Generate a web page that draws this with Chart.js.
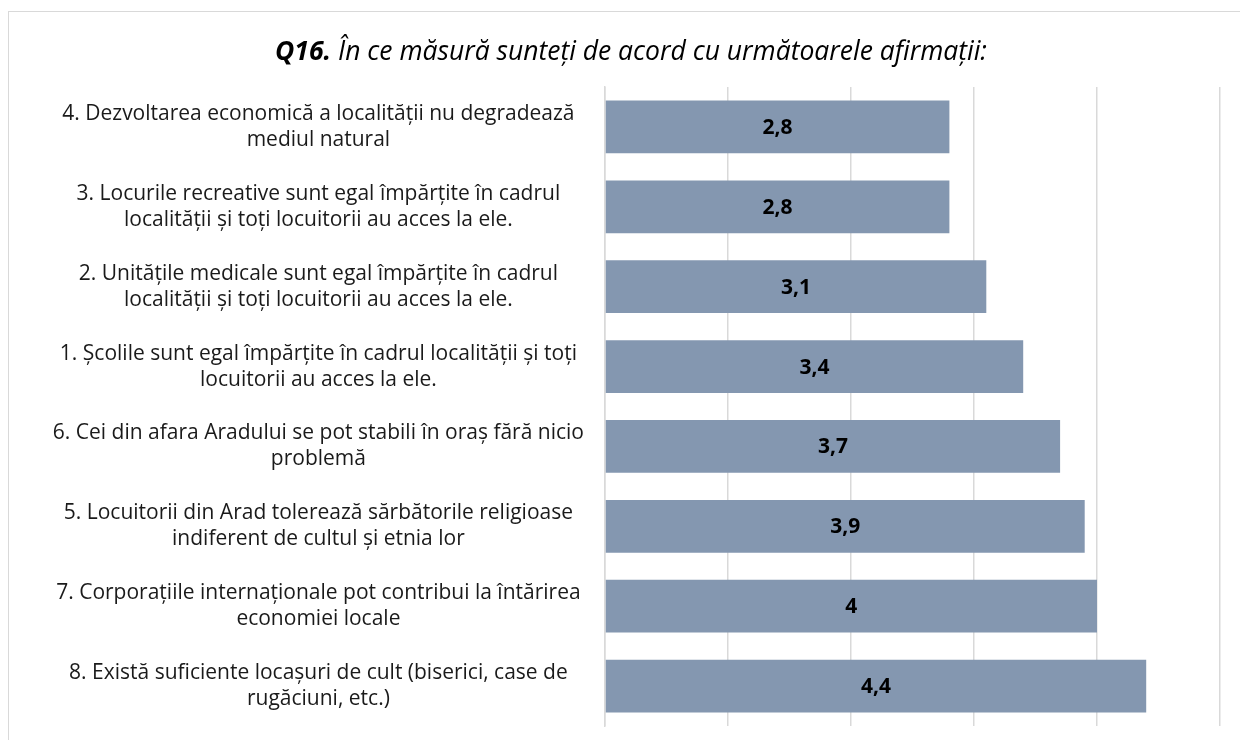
<!DOCTYPE html>
<html>
<head>
<meta charset="utf-8">
<script src="https://cdn.jsdelivr.net/npm/chart.js@4"></script>
<style>
  html, body { margin: 0; padding: 0; background: #fff; overflow: hidden; }
  #wrap { position: relative; width: 1240px; height: 740px; }
  #frame { position: absolute; left: 8px; top: 11px; width: 1300px; height: 800px; border: 1px solid #d9d9d9; pointer-events: none; }
</style>
</head>
<body>
<div id="wrap">
  <div id="frame"></div>
  <canvas id="chart" width="1240" height="740"></canvas>
</div>
<script>
const title_bold = 'Q16.';
const title_rest = 'În ce măsură sunteți de acord cu următoarele afirmații:';

const statements = [
    ['4. Dezvoltarea economică a localității nu degradează', 'mediul natural'],
    ['3. Locurile recreative sunt egal împărțite în cadrul', 'localității și toți locuitorii au acces la ele.'],
    ['2. Unitățile medicale sunt egal împărțite în cadrul', 'localității și toți locuitorii au acces la ele.'],
    ['1. Școlile sunt egal împărțite în cadrul localității și toți', 'locuitorii au acces la ele.'],
    ['6. Cei din afara Aradului se pot stabili în oraș fără nicio', 'problemă'],
    ['5. Locuitorii din Arad tolerează sărbătorile religioase', 'indiferent de cultul și etnia lor'],
    ['7. Corporațiile internaționale pot contribui la întărirea', 'economiei locale'],
    ['8. Există suficiente locașuri de cult (biserici, case de', 'rugăciuni, etc.)']
];
const mean_scores = [2.8, 2.8, 3.1, 3.4, 3.7, 3.9, 4, 4.4];

const font_family = '"Open Sans", Lato, sans-serif';

// two-style title (bold italic "Q16." + italic rest)
var titlePlugin = {
    id: 'mixedTitle',
    afterDraw: function(chart) {
        var ctx = chart.ctx;
        ctx.save();
        ctx.textBaseline = 'middle';
        ctx.fillStyle = '#000';
        var boldFont = 'italic bold 26.5px ' + font_family;
        var italicFont = 'italic 26.5px ' + font_family;
        ctx.font = boldFont;
        var w1 = ctx.measureText(title_bold + ' ').width;
        ctx.font = italicFont;
        var w2 = ctx.measureText(title_rest).width;
        var x = 631 - (w1 + w2) / 2;
        ctx.textAlign = 'left';
        ctx.font = boldFont;
        ctx.fillText(title_bold, x, 52);
        ctx.font = italicFont;
        ctx.fillText(title_rest, x + w1, 52);
        ctx.restore();
    }
};

// value labels in the middle of each bar
var valueLabels = {
    id: 'valueLabels',
    afterDatasetsDraw: function(chart) {
        var ctx = chart.ctx;
        var meta = chart.getDatasetMeta(0);
        ctx.save();
        ctx.font = 'bold 21px ' + font_family;
        ctx.fillStyle = '#000';
        ctx.textAlign = 'center';
        ctx.textBaseline = 'middle';
        meta.data.forEach(function(bar, i) {
            var p = bar.getProps(['x', 'y', 'base'], true);
            var txt = String(mean_scores[i]).replace('.', ',');
            ctx.fillText(txt, (p.x + p.base) / 2, p.y + 1);
        });
        ctx.restore();
    }
};

var chart = new Chart(document.getElementById('chart'), {
    type: 'bar',
    data: {
        labels: statements,
        datasets: [{
            data: mean_scores,
            backgroundColor: '#8497b0',
            barPercentage: 0.66,
            categoryPercentage: 1.0
        }]
    },
    options: {
        indexAxis: 'y',
        responsive: false,
        animation: false,
        layout: { padding: { top: 87, bottom: 14, right: 20, left: 0 } },
        plugins: {
            legend: { display: false },
            tooltip: { enabled: false }
        },
        scales: {
            x: {
                min: 0,
                max: 5,
                ticks: { display: false, stepSize: 1 },
                grid: { color: '#d9d9d9', lineWidth: 1.5, drawTicks: false },
                border: { display: false },
                afterFit: function(scale) { scale.height = 0; }
            },
            y: {
                ticks: {
                    crossAlign: 'center',
                    padding: 21,
                    color: '#1a1a1a',
                    font: { family: font_family, size: 21, lineHeight: 1.24 }
                },
                grid: { display: false, drawTicks: false },
                border: { color: '#d9d9d9', width: 1.5 },
                afterFit: function(scale) {
                    scale.width = 605;
                    scale.paddingTop = 0;
                    scale.paddingBottom = 0;
                }
            }
        }
    },
    plugins: [titlePlugin, valueLabels]
});
</script>
</body>
</html>
